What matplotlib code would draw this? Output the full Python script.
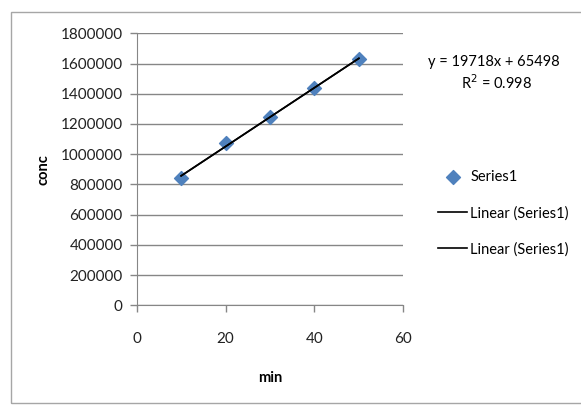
import numpy as np
import matplotlib.pyplot as plt
from matplotlib.patches import Rectangle

# data
minutes = [10, 20, 30, 40, 50]
conc = [840000, 1075000, 1245000, 1435000, 1632000]
x_ticks = [0, 20, 40, 60]
y_ticks = list(range(0, 1800001, 200000))
eq_text = "y = 19718x + 65498"
r2_text = "R$^2$ = 0.998"

plt.rcParams['font.family'] = ['Lato', 'DejaVu Sans']

fig = plt.figure(figsize=(5.81, 4.07), dpi=100)
fig.patch.set_facecolor('white')

# chart-area border (Excel style)
fig.patches.append(Rectangle((11 / 581, 1 - 403 / 407), 575 / 581, 391 / 407,
                             transform=fig.transFigure, fill=False,
                             edgecolor='#a6a6a6', linewidth=1.0))

ax = fig.add_axes([0.2353, 0.2499, 0.4589, 0.6683])

grid_c = '#868686'
ax.set_xlim(0, 60)
ax.set_ylim(0, 1800000)
ax.set_xticks(x_ticks)
ax.set_yticks(y_ticks)
ax.set_yticklabels([str(v) for v in y_ticks])
ax.yaxis.grid(True, color=grid_c, linewidth=1.0)
ax.set_axisbelow(True)
for side in ['top', 'right']:
    ax.spines[side].set_visible(False)
for side in ['left', 'bottom']:
    ax.spines[side].set_color(grid_c)
ax.tick_params(axis='both', colors=grid_c, length=5, width=1, labelsize=11,
               labelcolor='#222222')
ax.tick_params(axis='x', pad=14)
ax.tick_params(axis='y', pad=5)

# points and linear trend
ax.scatter(minutes, conc, marker='D', s=50, color='#4f81bd', zorder=3,
           label='Series1')
slope, icept = np.polyfit(minutes, conc, 1)
xs = np.array([minutes[0], minutes[-1]])
ax.plot(xs, slope * xs + icept, color='black', linewidth=1.2, zorder=4,
        label='Linear (Series1)')
ax.plot(xs, slope * xs + icept, color='black', linewidth=1.2, zorder=4,
        label='Linear (Series1)')

ax.set_xlabel('min', fontsize=10.5, fontweight='bold', labelpad=18)
ax.set_ylabel('conc', fontsize=10.5, fontweight='bold', labelpad=7)

fig.text(494 / 581, 1 - 62 / 407, eq_text, ha='center', va='center', fontsize=10.5)
fig.text(496 / 581, 1 - 83 / 407, r2_text, ha='center', va='center', fontsize=10.5)

ax.legend(loc='upper left', bbox_to_anchor=(438 / 581, 1 - 170 / 407),
          bbox_transform=fig.transFigure, frameon=False, fontsize=10.5,
          handlelength=2.0, handletextpad=0.2, labelspacing=1.5,
          borderaxespad=0, borderpad=0, scatterpoints=1)

fig.savefig('out.png', dpi=100)
